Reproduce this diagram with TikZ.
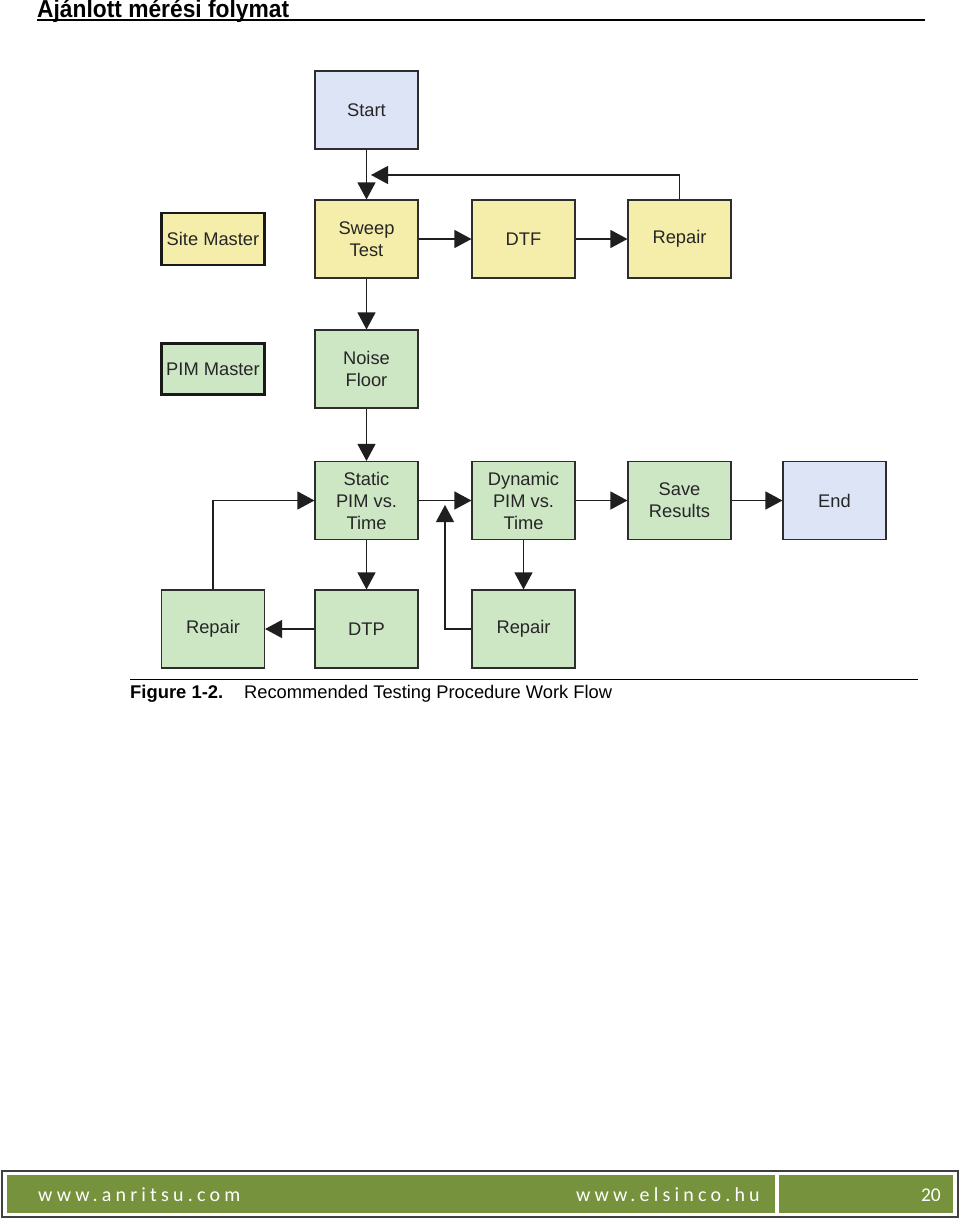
\documentclass[tikz,border=0pt]{standalone}
\usepackage{fontspec}
\setmainfont{Liberation Sans}
\newfontfamily\headfont[FakeStretch=0.93]{Liberation Sans}
\newfontfamily\footfont[LetterSpace=21]{Carlito}
\usetikzlibrary{arrows.meta}
\definecolor{boxblue}{RGB}{221,228,245}
\definecolor{boxyellow}{RGB}{245,238,170}
\definecolor{boxgreen}{RGB}{205,230,196}
\definecolor{boxline}{RGB}{45,45,45}
\definecolor{footgreen}{RGB}{118,146,60}
\tikzset{
  box/.style={draw=boxline, line width=1.1pt, minimum width=103pt, minimum height=78pt, inner sep=0pt,
    align=center, font=\fontsize{18.3}{22}\selectfont, text=black!85},
  sbox/.style={box, fill=boxblue},
  ybox/.style={box, fill=boxyellow},
  gbox/.style={box, fill=boxgreen},
  legend/.style={draw=black!90, line width=2.4pt, minimum width=103pt, inner sep=0pt,
    font=\fontsize{18.3}{22}\selectfont, text=black!85},
  conn/.style={draw=black!88, line width=1.2pt, -{Triangle[length=17pt,width=18pt]}},
}
\begin{document}
\begin{tikzpicture}[x=1pt,y=-1pt]
\path[use as bounding box, fill=white] (0,0) rectangle (960,1219);
% header
\node[anchor=base west, inner sep=0pt, font=\headfont\bfseries\fontsize{24.5}{26}\selectfont] (title) at (37,17.5) {Ajánlott mérési folymat};
\draw[line width=2pt] (37,20) -- (925,20);
% nodes
\node[sbox] (start) at (366.5,110) {Start};
\node[ybox] (sweep) at (366.5,239) {Sweep\\Test};
\node[ybox] (dtf) at (523.5,239) {DTF};
\node[ybox] (rep1) at (679.5,239) {Repair};
\node[legend, fill=boxyellow, minimum height=52pt] (site) at (213,239) {Site Master};
\node[legend, fill=boxgreen, minimum height=51pt] (pim) at (213,369) {PIM Master};
\node[gbox] (noise) at (366.5,369) {Noise\\Floor};
\node[gbox] (static) at (366.5,500.5) {Static\\PIM vs.\\Time};
\node[gbox] (dyn) at (523.5,500.5) {Dynamic\\PIM vs.\\Time};
\node[gbox] (save) at (679.5,500.5) {Save\\Results};
\node[sbox] (end) at (834.5,500.5) {End};
\node[gbox] (rep2) at (213,629) {Repair};
\node[gbox] (dtp) at (366.5,629) {DTP};
\node[gbox] (rep3) at (523.5,629) {Repair};
% connectors
\coordinate (loopin) at (371,175);
\draw[conn] (start) -- (sweep);
\draw[conn] (rep1.north) |- (loopin);
\draw[conn] (sweep) -- (dtf);
\draw[conn] (dtf) -- (rep1);
\draw[conn] (sweep) -- (noise);
\draw[conn] (noise) -- (static);
\draw[conn] (static) -- (dyn);
\draw[conn] (dyn) -- (save);
\draw[conn] (save) -- (end);
\draw[conn] (static) -- (dtp);
\draw[conn] (dtp) -- (rep2);
\draw[conn] (rep2.north) |- (static.west);
\draw[conn] (dyn) -- (rep3);
\coordinate (loopup) at (445,505);
\draw[conn] (rep3.west) -| (loopup);
% caption
\draw[line width=1pt] (130,679) -- (918,679);
\node[anchor=base west, inner sep=0pt, font=\bfseries\fontsize{18.4}{20}\selectfont] (figlab) at (130,698) {Figure 1-2.};
\node[anchor=base west, inner sep=0pt, font=\fontsize{18.3}{20}\selectfont] (caption) at (244,698) {Recommended Testing Procedure Work Flow};
% footer
\draw[draw=black!75, line width=1.5pt] (2,1171) rectangle (958,1217);
\fill[footgreen] (7,1175) rectangle (775,1213);
\fill[footgreen] (779,1175) rectangle (953,1213);
\node[anchor=base west, inner sep=0pt, text=white, font=\footfont\fontsize{20}{22}\selectfont] (f1) at (38,1201) {www.anritsu.com};
\node[anchor=base east, inner sep=0pt, text=white, font=\footfont\fontsize{20}{22}\selectfont] (f2) at (760,1201) {www.elsinco.hu};
\node[anchor=base east, inner sep=0pt, text=white, font=\fontspec{Carlito}\fontsize{19.5}{22}\selectfont] (f3) at (941,1201) {20};
\end{tikzpicture}
\end{document}
